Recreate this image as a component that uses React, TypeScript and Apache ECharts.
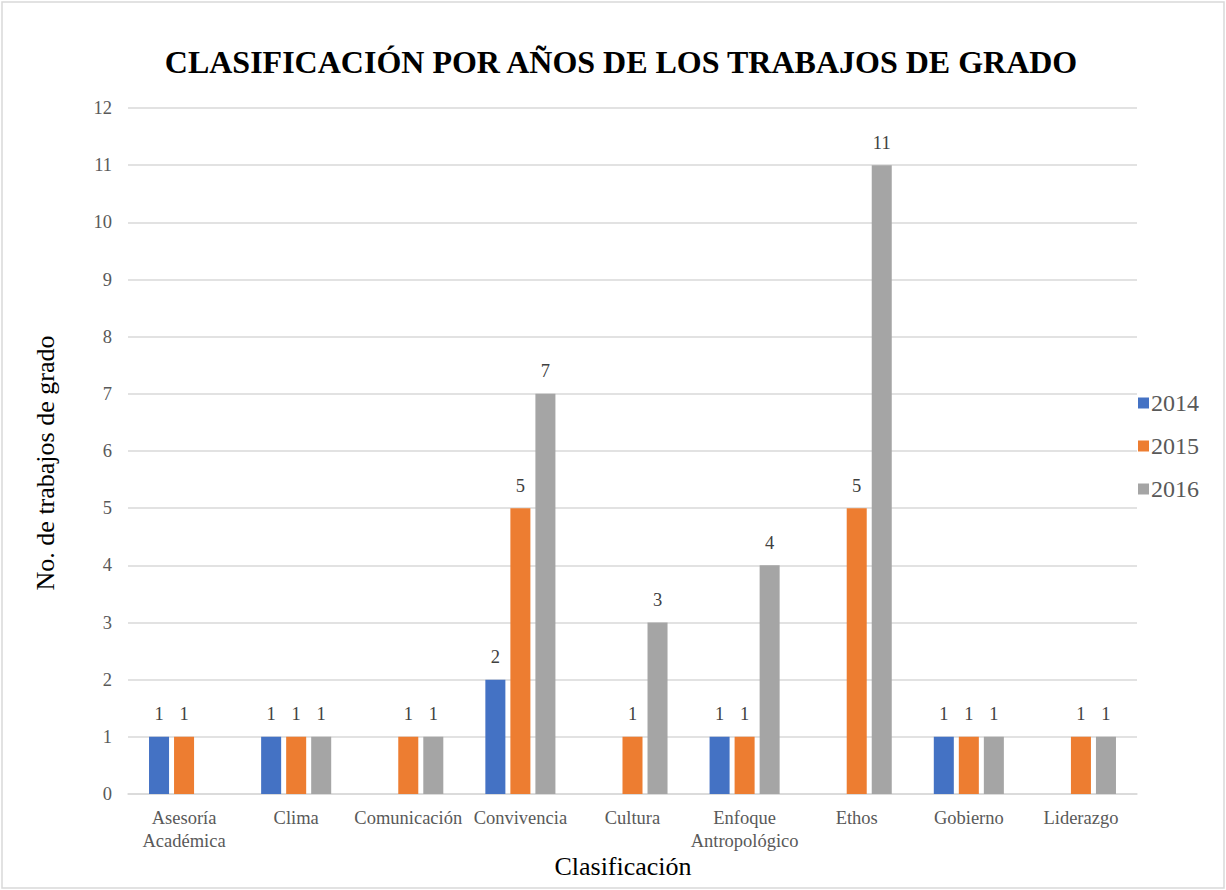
import React, { useEffect, useRef } from "react";
import * as echarts from "echarts";

const categories = [
  "Asesoría\nAcadémica",
  "Clima",
  "Comunicación",
  "Convivencia",
  "Cultura",
  "Enfoque\nAntropológico",
  "Ethos",
  "Gobierno",
  "Liderazgo",
];
const s2014 = [1, 1, null, 2, null, 1, null, 1, null];
const s2015 = [1, 1, 1, 5, 1, 1, 5, 1, 1];
const s2016 = [null, 1, 1, 7, 3, 4, 11, 1, 1];
const seriesNames = ["2014", "2015", "2016"];
const colors = ["#4472C4", "#ED7D31", "#A5A5A5"];
const titleText = "CLASIFICACIÓN POR AÑOS DE LOS TRABAJOS DE GRADO";
const xName = "Clasificación";
const yName = "No. de trabajos de grado";

const FONT = "Liberation Serif";

export default function App() {
  const ref = useRef<HTMLDivElement>(null);
  useEffect(() => {
    document.body.style.margin = "0";
    const chart = echarts.init(ref.current!, null, { renderer: "svg" });
    const data = [s2014, s2015, s2016];
    chart.setOption({
      animation: false,
      textStyle: { fontFamily: FONT },
      legend: {
        orient: "vertical",
        left: 1133,
        top: 386,
        itemWidth: 11,
        itemHeight: 11,
        itemGap: 19,
        icon: "rect",
        textStyle: { fontFamily: FONT, fontSize: 24, color: "#595959", padding: [0, 0, 0, -3] },
        data: seriesNames,
      },
      grid: { left: 128, right: 89, top: 108, bottom: 96, containLabel: false },
      xAxis: {
        type: "category",
        data: categories,
        axisLine: { lineStyle: { color: "#D9D9D9", width: 1.5 } },
        axisTick: { show: false },
        axisLabel: { fontFamily: FONT, fontSize: 18.5, color: "#595959", margin: 12, lineHeight: 23, interval: 0 },
      },
      yAxis: {
        type: "value",
        min: 0,
        max: 12,
        interval: 1,
        axisLine: { show: false },
        axisTick: { show: false },
        axisLabel: { fontFamily: FONT, fontSize: 18.5, color: "#595959", margin: 16 },
        splitLine: { lineStyle: { color: "#D9D9D9", width: 1.5 } },
      },
      series: seriesNames.map((n, i) => ({
        name: n,
        type: "bar",
        data: data[i],
        barGap: "25%",
        barCategoryGap: "37.5%",
        itemStyle: { color: colors[i] },
        label: {
          show: true,
          position: "top",
          distance: 13,
          fontFamily: FONT,
          fontSize: 18.5,
          color: "#404040",
        },
      })),
      graphic: [
        {
          type: "rect",
          shape: { x: 2, y: 2, width: 1222, height: 886 },
          style: { fill: "none", stroke: "#D9D9D9", lineWidth: 1.5 },
          silent: true,
        },
        {
          type: "text",
          x: 621,
          y: 62,
          style: {
            text: titleText,
            textAlign: "center",
            textVerticalAlign: "middle",
            fontFamily: FONT,
            fontSize: 32,
            fontWeight: "bold",
            fill: "#000",
          },
        },
        {
          type: "text",
          x: 623,
          y: 866,
          style: {
            text: xName,
            textAlign: "center",
            textVerticalAlign: "middle",
            fontFamily: FONT,
            fontSize: 26,
            fill: "#000",
          },
        },
        {
          type: "text",
          x: 45,
          y: 463,
          rotation: Math.PI / 2,
          style: {
            text: yName,
            textAlign: "center",
            textVerticalAlign: "middle",
            fontFamily: FONT,
            fontSize: 26,
            fill: "#000",
          },
        },
      ],
    });
    return () => chart.dispose();
  }, []);
  return <div ref={ref} style={{ width: 1226, height: 890 }} />;
}
